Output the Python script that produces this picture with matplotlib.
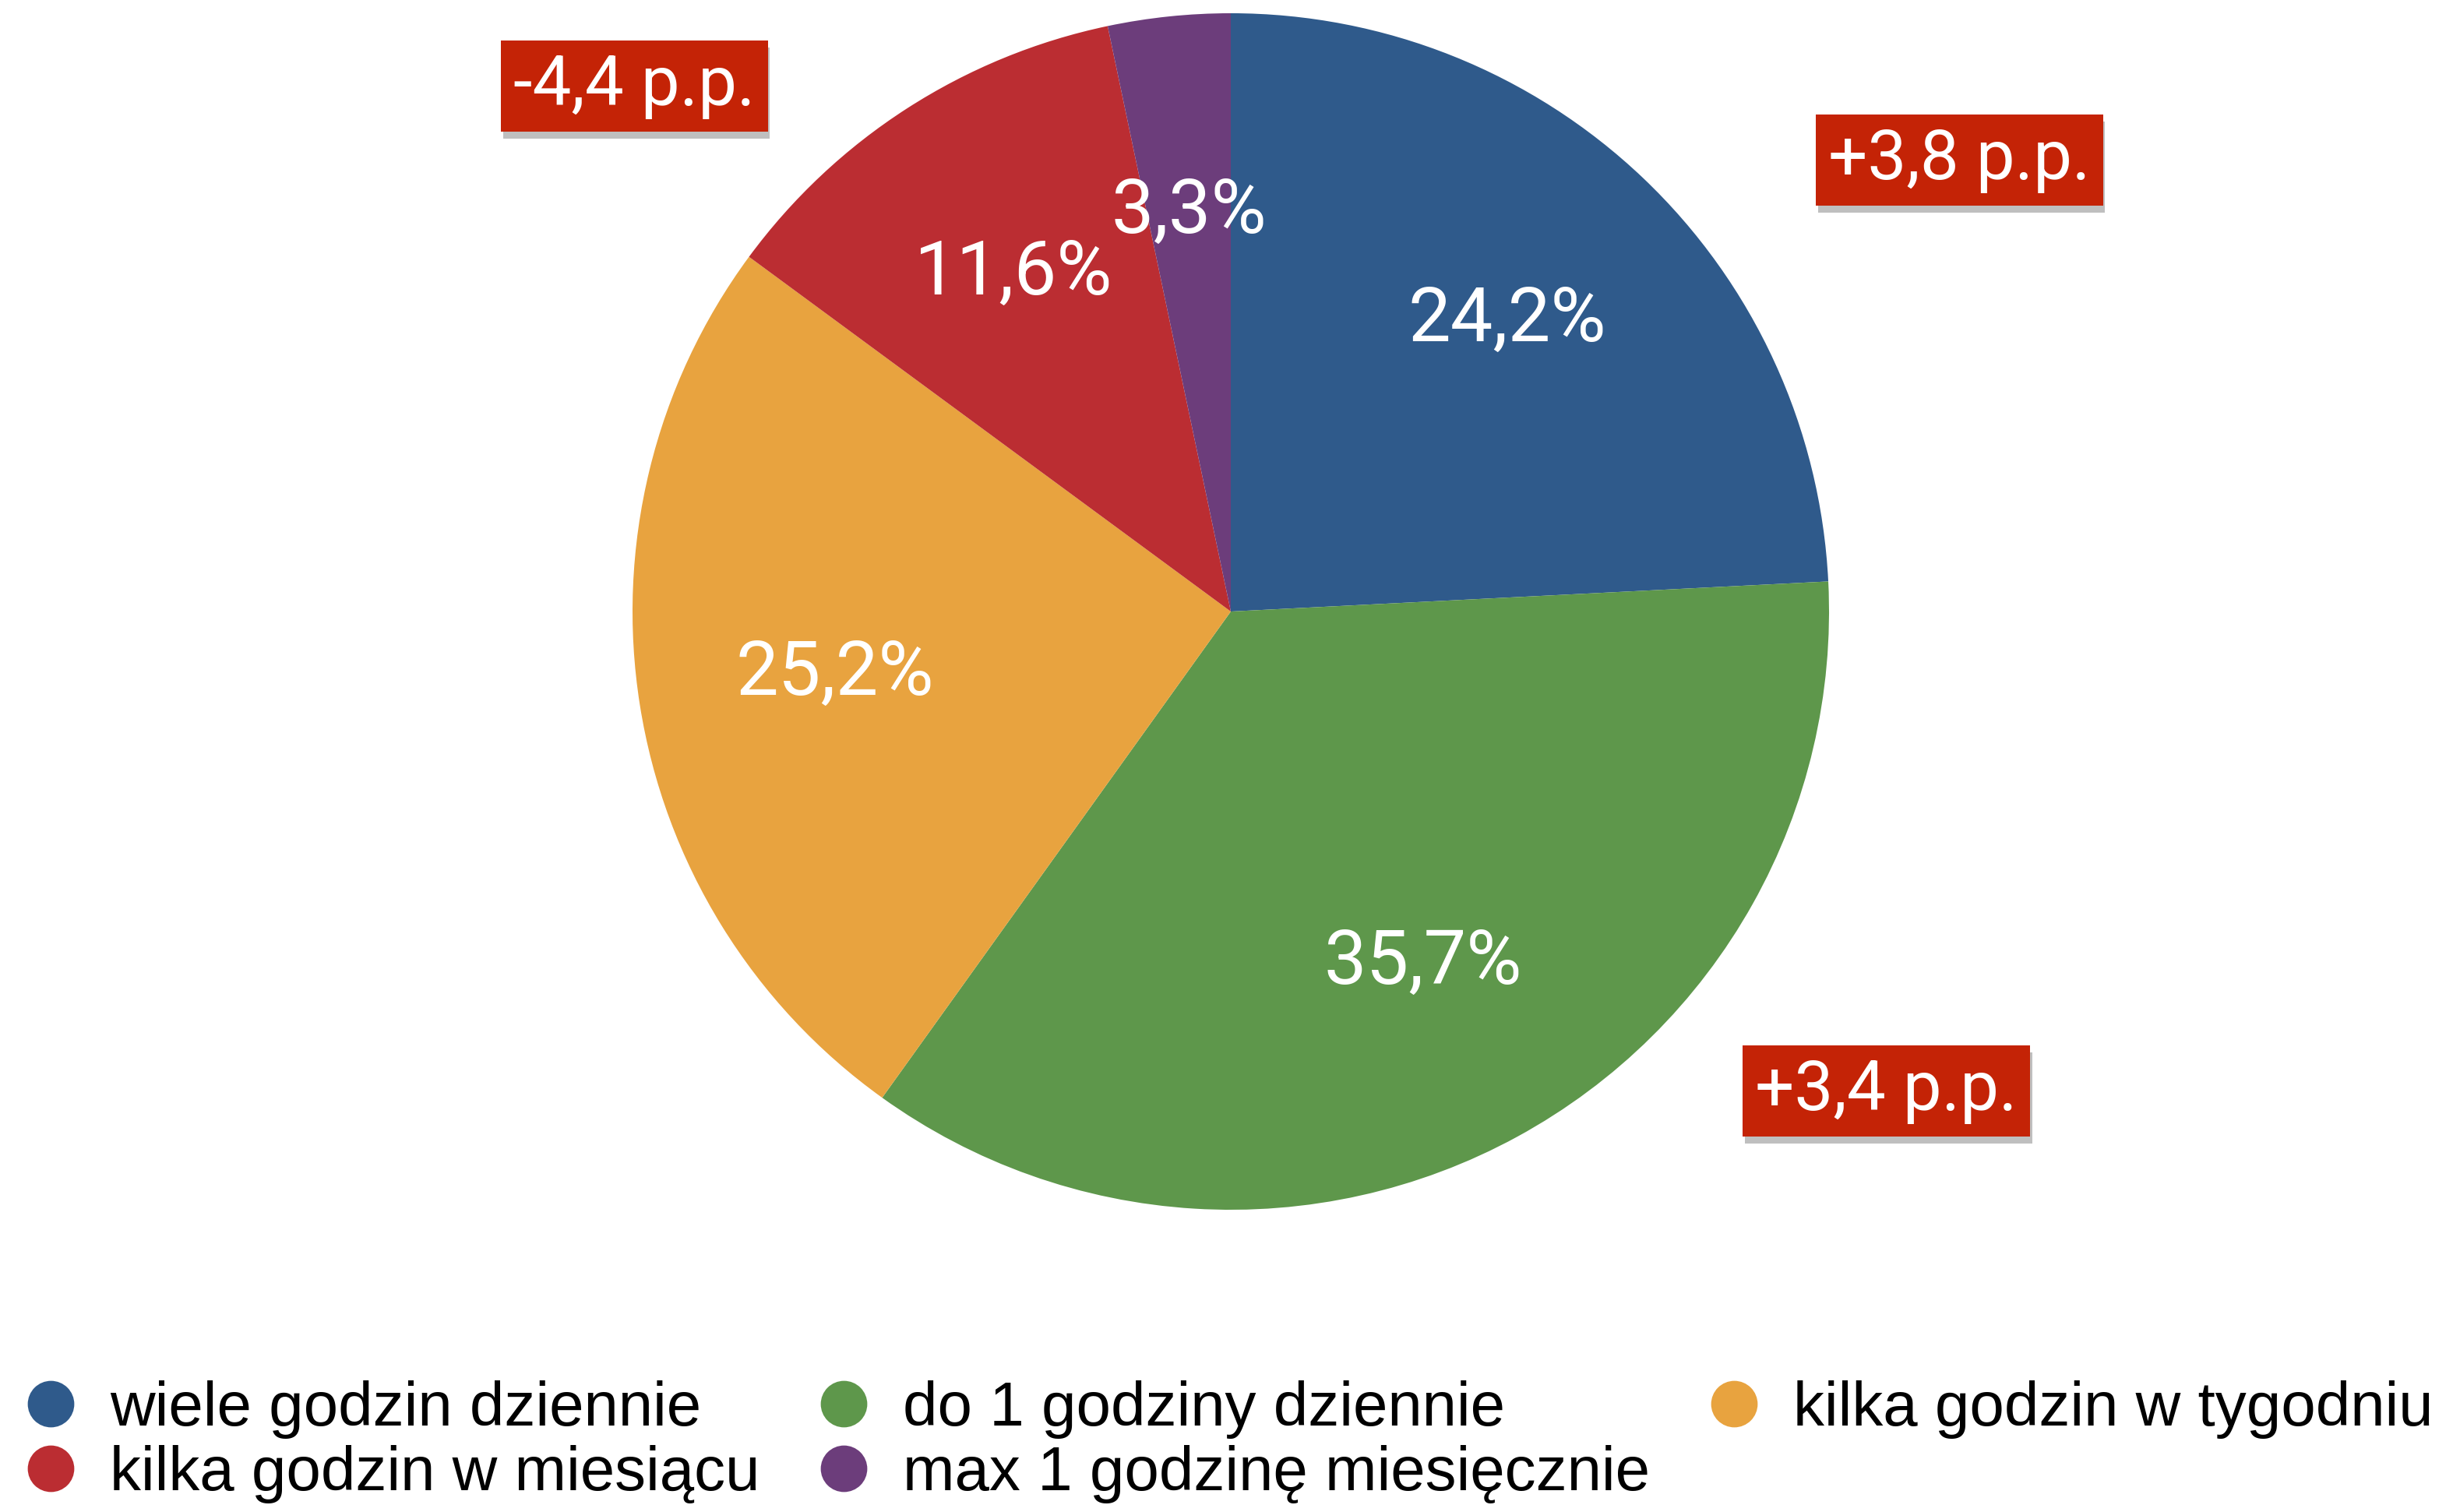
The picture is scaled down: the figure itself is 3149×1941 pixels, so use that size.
import matplotlib.pyplot as plt
import matplotlib.patheffects as pe
from matplotlib.lines import Line2D

# data
categories = ['wiele godzin dziennie', 'do 1 godziny dziennie', 'kilka godzin w tygodniu',
              'kilka godzin w miesiącu', 'max 1 godzinę miesięcznie']
values = [24.2, 35.7, 25.2, 11.6, 3.3]
colors = ['#2F5A8B', '#5E974B', '#E8A33F', '#BB2D32', '#6C3D7B']
changes = ['+3,8 p.p.', '+3,4 p.p.', None, '-4,4 p.p.', None]
change_pos = [(1.218, 0.754), (1.096, -0.802), None, (-0.997, 0.878), None]

W, H = 3149, 1941
fig = plt.figure(figsize=(W / 100, H / 100), dpi=100)
cx, cy, r = 1580, 785, 768
ax = fig.add_axes([(cx - r) / W, (H - cy - r) / H, 2 * r / W, 2 * r / H])

font = ['Roboto', 'DejaVu Sans']

wedges, texts = ax.pie(values, colors=colors, startangle=90, counterclock=False,
                       labels=[f'{v:.1f}%'.replace('.', ',') for v in values],
                       labeldistance=0.67, radius=1)
for t in texts:
    t.set_color('white')
    t.set_fontsize(70)
    t.set_fontfamily(font)
    t.set_ha('center')
    t.set_va('center')

ax.set_xlim(-1, 1)
ax.set_ylim(-1, 1)
ax.set_aspect('equal')
ax.axis('off')

# change boxes
for txt, pos in zip(changes, change_pos):
    if txt is None:
        continue
    t = ax.text(pos[0], pos[1], txt, color='white', fontsize=64, ha='center', va='center',
                family=font, clip_on=False,
                bbox=dict(boxstyle='square,pad=0.18', fc='#C42306', ec='none'))
    t.get_bbox_patch().set_path_effects([pe.withSimplePatchShadow(offset=(2, -6), shadow_rgbFace='k', alpha=0.25), pe.Normal()])

# legend, row-wise order
order = [0, 3, 1, 4, 2]
handles = [Line2D([], [], marker='o', linestyle='none', markersize=43,
                  markerfacecolor=colors[i], markeredgecolor='none') for i in order]
labels = [categories[i] for i in order]
leg = fig.legend(handles, labels, ncol=3, loc='upper left',
                 frameon=False, prop=dict(family='Liberation Sans', size=57.5),
                 handlelength=1.0, handletextpad=0.45, columnspacing=0.85,
                 labelspacing=0.1, borderpad=0, borderaxespad=0)
leg.set_bbox_to_anchor((0.008, 1 - 1772 / H), transform=fig.transFigure)

fig.savefig('out.png', dpi=100, facecolor='white')
